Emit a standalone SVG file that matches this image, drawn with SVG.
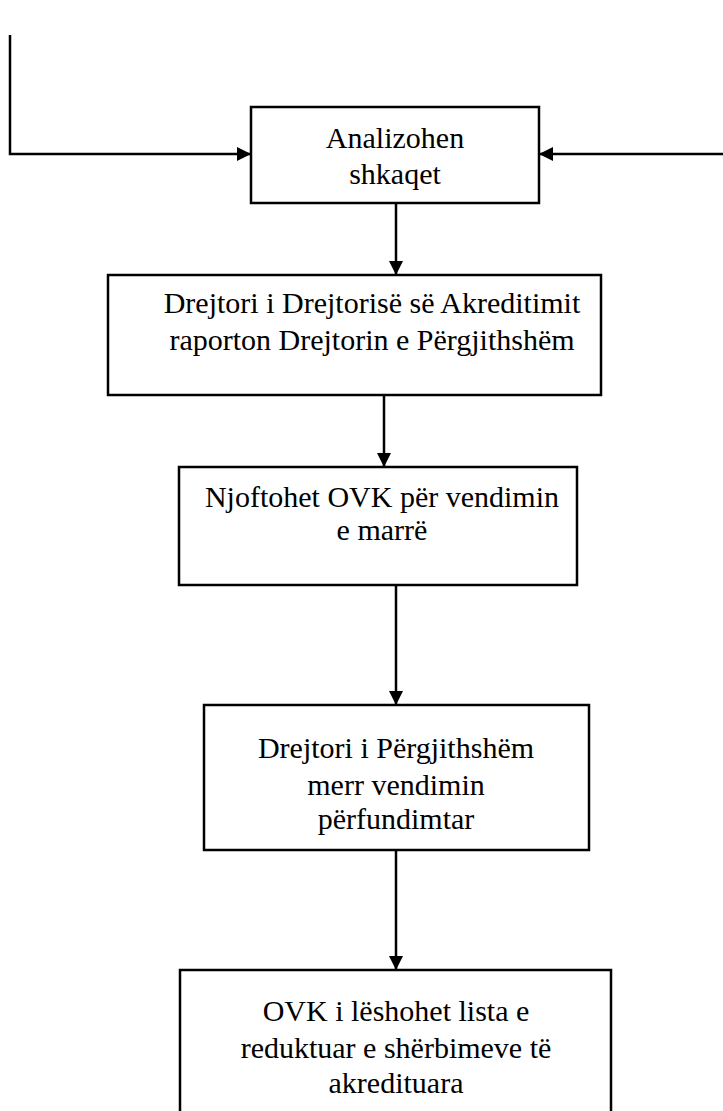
<svg xmlns="http://www.w3.org/2000/svg" width="723" height="1111" viewBox="0 0 723 1111">
<style>
.box{fill:#fff;stroke:#000;stroke-width:2.5}
.ln{fill:none;stroke:#000;stroke-width:2.5}
.t{font-family:'Liberation Serif','DejaVu Serif',serif;font-size:30px;fill:#000;text-anchor:middle}
</style>
<defs>
<marker id="ah" viewBox="0 0 14 14" refX="14" refY="7" markerWidth="14" markerHeight="14" markerUnits="userSpaceOnUse" orient="auto">
<path d="M0,0 L14,7 L0,14 Z" fill="#000"/>
</marker>
</defs>
<rect width="723" height="1111" fill="#fff"/>
<g id="connectors">
<path class="ln" d="M10,35 V154 H251" marker-end="url(#ah)"/>
<path class="ln" d="M723,154 H539" marker-end="url(#ah)"/>
<path class="ln" d="M396,203 V275" marker-end="url(#ah)"/>
<path class="ln" d="M384,395 V467" marker-end="url(#ah)"/>
<path class="ln" d="M396,585 V705" marker-end="url(#ah)"/>
<path class="ln" d="M396,850 V970" marker-end="url(#ah)"/>
</g>
<g id="n1">
<rect class="box" x="251" y="107" width="288" height="96"/>
<text class="t" x="395" y="148" font-family="Liberation Serif">Analizohen</text>
<text class="t" x="395" y="184" font-family="Liberation Serif">shkaqet</text>
</g>
<g id="n2">
<rect class="box" x="108" y="275" width="493" height="120"/>
<text class="t" x="372" y="313">Drejtori i Drejtorisë së Akreditimit</text>
<text class="t" x="372" y="350">raporton Drejtorin e Përgjithshëm</text>
</g>
<g id="n3">
<rect class="box" x="179" y="467" width="398" height="118"/>
<text class="t" x="382" y="507">Njoftohet OVK për vendimin</text>
<text class="t" x="382" y="540">e marrë</text>
</g>
<g id="n4">
<rect class="box" x="204" y="705" width="385" height="145"/>
<text class="t" x="396" y="758">Drejtori i Përgjithshëm</text>
<text class="t" x="396" y="795">merr vendimin</text>
<text class="t" x="396" y="829">përfundimtar</text>
</g>
<g id="n5">
<rect class="box" x="180" y="970" width="431" height="160"/>
<text class="t" x="396" y="1021">OVK i lëshohet lista e</text>
<text class="t" x="396" y="1058">reduktuar e shërbimeve të</text>
<text class="t" x="396" y="1093">akredituara</text>
</g>
</svg>
